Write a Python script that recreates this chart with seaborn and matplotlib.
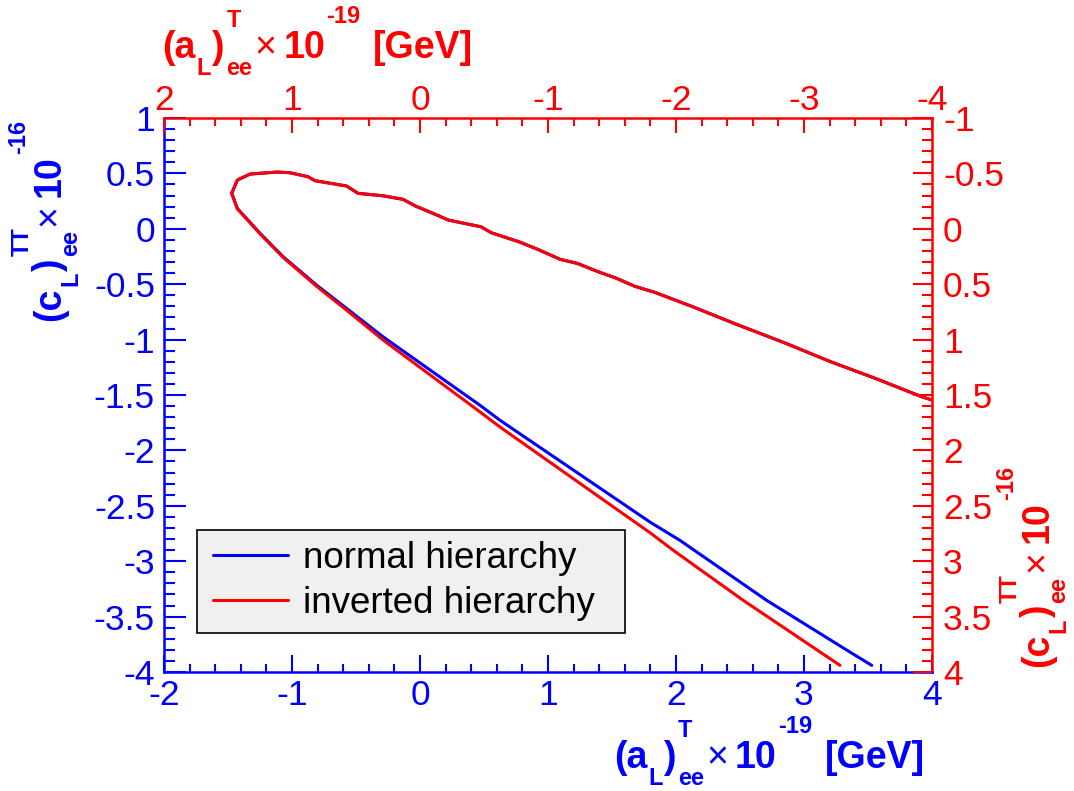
import matplotlib
matplotlib.use("Agg")
import matplotlib.pyplot as plt
import pandas as pd
import seaborn as sns
from matplotlib.ticker import MultipleLocator, FuncFormatter
from matplotlib.transforms import IdentityTransform
from matplotlib.patches import Rectangle

# ---------------- data ----------------
# shared upper branch of the contour (identical for both hierarchies)
upper_x = [-1.471, -1.427, -1.328, -1.12, -1.016, -0.875, -0.82, -0.573, -0.484,
           -0.289, -0.133, -0.035, 0.102, 0.221, 0.477, 0.558, 0.773, 0.921,
           1.096, 1.231, 1.393, 1.527, 1.676, 1.838, 2.134, 2.457, 2.861,
           3.211, 3.562, 3.925, 4.0]
upper_y = [0.320, 0.44, 0.494, 0.512, 0.506, 0.47, 0.434, 0.386, 0.32,
           0.298, 0.266, 0.205, 0.139, 0.079, 0.018, -0.036, -0.117, -0.186,
           -0.276, -0.313, -0.388, -0.443, -0.518, -0.575, -0.705, -0.855, -1.035,
           -1.201, -1.352, -1.518, -1.545]
# lower branches (from their lower-right end up to the loop)
normal_x = [3.529, 3.359, 2.709, 2.031, 1.797, 0.625, 0.469, -0.287, -0.573,
            -0.807, -1.068, -1.25, -1.427]
normal_y = [-3.94, -3.82, -3.354, -2.812, -2.647, -1.728, -1.593, -0.976, -0.719,
            -0.509, -0.253, -0.04, 0.184]
inverted_x = [3.281, 2.526, 1.979, 1.797, 0.625, 0.469, -0.287, -0.573,
              -0.807, -1.068, -1.25, -1.427]
inverted_y = [-3.94, -3.354, -2.902, -2.743, -1.789, -1.653, -1.005, -0.735,
              -0.52, -0.26, -0.045, 0.18]
series_labels = ["normal hierarchy", "inverted hierarchy"]

BLUE = "#0000ff"
RED = "#ff0000"

sns.set_style("ticks")
plt.rcParams["font.family"] = ["Liberation Sans", "DejaVu Sans"]
plt.rcParams["axes.unicode_minus"] = False

W, H = 1074, 791
fig = plt.figure(figsize=(W / 100, H / 100), dpi=100)
L, R, T, B = 164, 932, 118, 672
ax = fig.add_axes([L / W, 1 - B / H, (R - L) / W, (B - T) / H])

df_n = pd.DataFrame({"x": normal_x + upper_x, "y": normal_y + upper_y})
df_i = pd.DataFrame({"x": inverted_x + upper_x, "y": inverted_y + upper_y})
sns.lineplot(data=df_n, x="x", y="y", sort=False, estimator=None, color=BLUE,
             lw=2.2, ax=ax, label=series_labels[0])
sns.lineplot(data=df_i, x="x", y="y", sort=False, estimator=None, color=RED,
             lw=2.2, ax=ax, label=series_labels[1])

ax.set_xlim(-2, 4)
ax.set_ylim(-4, 1)
ax.set_xlabel("")
ax.set_ylabel("")

fmt = FuncFormatter(lambda v, p: f"{round(v, 3) + 0.0:g}")
TL = 25.5

ax.xaxis.set_major_locator(MultipleLocator(1))
ax.xaxis.set_minor_locator(MultipleLocator(0.2))
ax.yaxis.set_major_locator(MultipleLocator(0.5))
ax.yaxis.set_minor_locator(MultipleLocator(0.1))
ax.xaxis.set_major_formatter(fmt)
ax.yaxis.set_major_formatter(fmt)
ax.tick_params(axis="x", which="major", direction="in", length=12, width=1.5,
               colors=BLUE, labelsize=TL, pad=5, top=False)
ax.tick_params(axis="x", which="minor", direction="in", length=6, width=1.5,
               colors=BLUE, top=False)
ax.tick_params(axis="y", which="major", direction="in", length=16, width=1.5,
               colors=BLUE, labelsize=TL, pad=6.5, right=False)
ax.tick_params(axis="y", which="minor", direction="in", length=8, width=1.5,
               colors=BLUE, right=False)
for s in ("left", "bottom"):
    ax.spines[s].set_color(BLUE)
    ax.spines[s].set_linewidth(1.8)
for s in ("top", "right"):
    ax.spines[s].set_color(RED)
    ax.spines[s].set_linewidth(1.8)

# top axis (red, reversed)
axt = ax.twiny()
axt.set_xlim(2, -4)
axt.xaxis.set_major_locator(MultipleLocator(1))
axt.xaxis.set_minor_locator(MultipleLocator(0.2))
axt.xaxis.set_major_formatter(fmt)
axt.tick_params(axis="x", which="major", direction="in", length=11, width=1.5,
                colors=RED, labelsize=TL, pad=0.5)
axt.tick_params(axis="x", which="minor", direction="in", length=6, width=1.5,
                colors=RED)
for s in axt.spines.values():
    s.set_visible(False)

# right axis (red, reversed)
axr = ax.twinx()
axr.set_ylim(4, -1)
axr.yaxis.set_major_locator(MultipleLocator(0.5))
axr.yaxis.set_minor_locator(MultipleLocator(0.1))
axr.yaxis.set_major_formatter(fmt)
axr.tick_params(axis="y", which="major", direction="in", length=14, width=1.5,
                colors=RED, labelsize=TL, pad=8)
axr.tick_params(axis="y", which="minor", direction="in", length=7, width=1.5,
                colors=RED)
for s in axr.spines.values():
    s.set_visible(False)

# ---------------- ROOT-style axis titles built from pieces ----------------
ident = IdentityTransform()
renderer = fig.canvas.get_renderer()
MS, SS = 27, 17          # main / script sizes (pt)
SUP, SUB, SUPN = 31, -17, 35


def title_pieces(var, script):
    return [("(" + var, MS, 0, 0, "bold", False),
            ("L", SS, SUB, 1, "bold", False),
            (")", MS, 0, 0, "bold", False),
            (script, SS, SUP, 3, "bold", False),
            ("ee", SS, SUB, 3, "bold", True),
            ("\u00d7", MS, 0, 2, "normal", False),
            ("10", MS, 0, 7, "bold", False)]


def compose(pieces, color, rotated):
    objs, prev_start, end = [], 0.0, 0.0
    for text, size, shift, gap, weight, stack in pieces:
        start = prev_start if stack else end + gap
        t = fig.text(0, 0, text, fontsize=size, fontweight=weight, color=color,
                     transform=ident, rotation=90 if rotated else 0,
                     rotation_mode="anchor", ha="left", va="baseline")
        ext = t.get_window_extent(renderer)
        length = ext.height if rotated else ext.width
        objs.append((t, start, shift))
        prev_start = start
        end = max(end, start + length)
    return objs, end


def place(objs, origin, baseline, rotated):
    for t, start, shift in objs:
        if rotated:
            t.set_position((baseline - shift, origin + start))
        else:
            t.set_position((origin + start, baseline + shift))


x_title = title_pieces("a", "T") + [("-19", SS, SUPN, 1, "bold", False),
                                     ("[GeV]", MS, 0, 13, "bold", False)]
y_title = title_pieces("c", "TT") + [("-16", SS, SUPN, 1, "bold", False)]

# bottom (blue), right-aligned at x=925, baseline y=768
objs, length = compose(x_title, BLUE, False)
place(objs, 925 - length, H - 768, False)
# top (red), left-aligned at x=162, baseline y=58
objs, length = compose(x_title, RED, False)
place(objs, 162, H - 58, False)
# left (blue), rotated, ends at y=120, baseline x=60
objs, length = compose(y_title, BLUE, True)
place(objs, (H - 120) - length, 60, True)
# right (red), rotated, starts at y=667, baseline x=1048
objs, length = compose(y_title, RED, True)
place(objs, H - 667, 1048, True)

# ---------------- legend ----------------
box = Rectangle((197 / W, 1 - 633 / H), (625 - 197) / W, (633 - 530) / H,
                transform=fig.transFigure, facecolor="#f0f0f0", edgecolor="black",
                lw=1.2, clip_on=False, zorder=9)
ax.add_patch(box)
handles, labels = ax.get_legend_handles_labels()
leg = ax.legend(handles, labels, loc="center left",
                bbox_to_anchor=(213 / W, 1 - 581 / H), bbox_transform=fig.transFigure,
                fontsize=26.5, frameon=False, handlelength=2.04,
                handletextpad=0.41, borderpad=0, labelspacing=0.26,
                borderaxespad=0, labelcolor="black")
leg.set_zorder(10)

fig.savefig("out.png", dpi=100)
